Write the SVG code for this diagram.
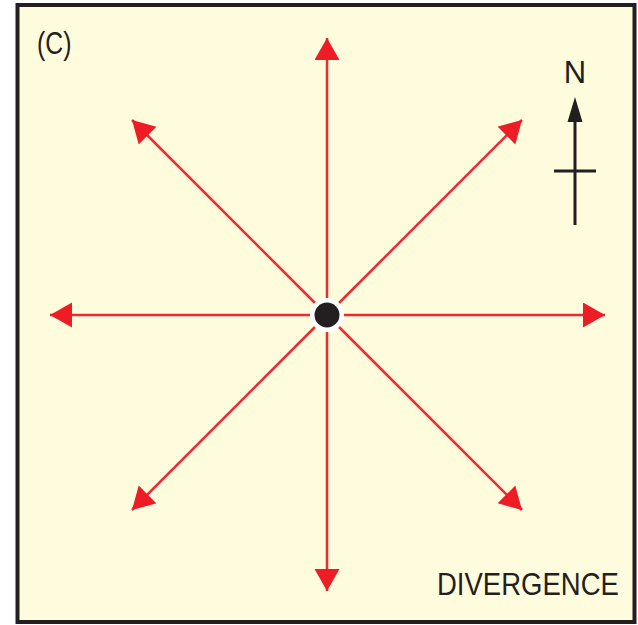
<svg xmlns="http://www.w3.org/2000/svg" width="638" height="625" viewBox="0 0 638 625">
<defs>
<style>
.ln{stroke:#ee2a32;stroke-width:2.5;fill:none;marker-end:url(#ah)}
.t{font-family:"Liberation Sans",Arial,sans-serif;fill:#231f20}
</style>
<marker id="ah" markerUnits="userSpaceOnUse" markerWidth="24" markerHeight="26" refX="22" refY="12.5" orient="auto" viewBox="0 0 24 26">
<path d="M0,0 L22,12.5 L0,25 Z" fill="#ee1c25"/>
</marker>
</defs>
<rect x="17.5" y="5" width="617" height="617" fill="#fffbdd" stroke="#231f20" stroke-width="4"/>
<g id="connectors">
<line class="ln" x1="327" y1="298" x2="327" y2="38"/>
<line class="ln" x1="327" y1="332" x2="327" y2="591"/>
<line class="ln" x1="310" y1="315" x2="50" y2="315"/>
<line class="ln" x1="344" y1="315" x2="605" y2="315"/>
<line class="ln" x1="315" y1="303" x2="132" y2="120"/>
<line class="ln" x1="339" y1="303" x2="522" y2="120"/>
<line class="ln" x1="315" y1="327" x2="132" y2="510"/>
<line class="ln" x1="339" y1="327" x2="522" y2="510"/>
</g>
<g id="center">
<circle cx="327" cy="315" r="17" fill="#ffffff"/>
<circle cx="327" cy="315" r="12.5" fill="#231f20"/>
</g>
<g id="label-c">
<text class="t" transform="matrix(0.8 0 0 1 37 54)" x="0" y="0" font-size="31">(C)</text>
</g>
<g id="north">
<text class="t" x="575" y="83" font-size="31" text-anchor="middle">N</text>
<path d="M575,97 L582.5,122 L567.5,122 Z" fill="#231f20"/>
<line x1="575" y1="118" x2="575" y2="225" stroke="#231f20" stroke-width="3"/>
<line x1="554" y1="171" x2="596" y2="171" stroke="#231f20" stroke-width="3"/>
</g>
<g id="label-divergence">
<text class="t" transform="matrix(0.86 0 0 1 437 595)" x="0" y="0" font-size="32">DIVERGENCE</text>
</g>
</svg>
